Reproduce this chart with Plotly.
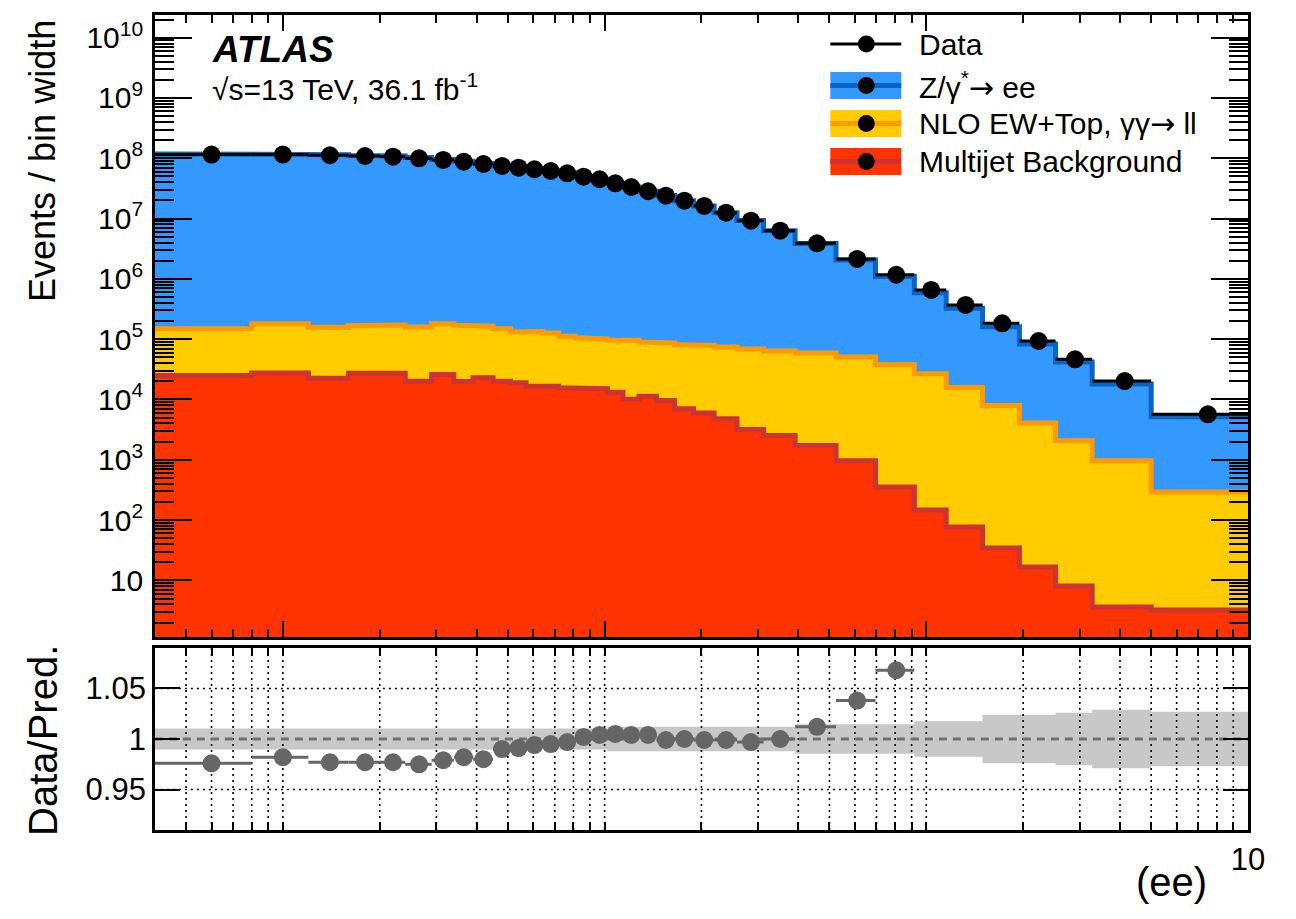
import numpy as np
import plotly.graph_objects as go

W, H = 1296, 919
# horizontal layout grid: 1280 units across the figure width
XSPAN = 1280.0
FONT = "Liberation Sans, Arial, Helvetica, sans-serif"
ARROW = '<span style="font-family:DejaVu Sans">→</span>'

# phi*_eta binning
bin_edges = [0.004, 0.008, 0.012, 0.016, 0.020, 0.024, 0.029, 0.034, 0.039, 0.045,
             0.051, 0.057, 0.064, 0.072, 0.081, 0.091, 0.102, 0.114, 0.128, 0.145,
             0.165, 0.189, 0.219, 0.258, 0.312, 0.391, 0.524, 0.695, 0.918, 1.153,
             1.496, 1.947, 2.522, 3.277, 5.0, 10.0]

# observed events / bin width
data_events = [1.151e8, 1.151e8, 1.122e8, 1.091e8, 1.064e8, 1.000e8, 9.38e7, 8.79e7, 8.04e7, 7.45e7,
               6.98e7, 6.58e7, 6.15e7, 5.64e7, 4.96e7, 4.49e7, 3.85e7, 3.34e7, 2.84e7, 2.40e7,
               1.98e7, 1.62e7, 1.25e7, 9.23e6, 6.30e6, 3.89e6, 2.14e6, 1.17e6, 6.55e5, 3.69e5,
               1.83e5, 9.33e4, 4.63e4, 2.02e4, 5.68e3]

# data / prediction
ratio_data_pred = [0.976, 0.982, 0.977, 0.977, 0.977, 0.975, 0.979, 0.982, 0.980, 0.990,
                   0.991, 0.994, 0.995, 0.997, 1.002, 1.004, 1.005, 1.004, 1.004, 0.999,
                   1.000, 0.999, 0.999, 0.997, 1.000, 1.012, 1.038, 1.068, 1.110, 1.130,
                   1.140, 1.120, 1.110, 1.120, 1.100]

# NLO EW + top, gamma gamma -> ll
ew_top_gg = [123800, 153200, 135600, 140300, 145000, 139200, 153900, 150700, 140800, 129200,
             112500, 117700, 110200, 96100, 90400, 85700, 83800, 85900, 78600, 76900,
             74600, 72700, 69500, 65500, 61200, 57300, 49700, 37700, 26600, 15700,
             7910, 4060, 2060, 958, 289]

# multijet background
multijet = [25000, 27480, 22540, 27160, 27160, 20040, 26000, 19860, 22910, 20090,
            19010, 16630, 16630, 15630, 15030, 15030, 13210, 10070, 11350, 9620,
            7015, 5970, 4790, 3180, 2530, 1726, 966, 354, 147, 76.9,
            34.4, 16.7, 8.07, 3.62, 3.23]

# relative uncertainty of the prediction
pred_unc = [0.0105, 0.0105, 0.0105, 0.0105, 0.0105, 0.0105, 0.0105, 0.0105, 0.0105, 0.0105,
            0.0105, 0.0105, 0.0105, 0.0105, 0.0105, 0.0105, 0.012, 0.012, 0.012, 0.012,
            0.012, 0.012, 0.012, 0.012, 0.012, 0.0145, 0.0145, 0.0145, 0.0175, 0.0175,
            0.024, 0.024, 0.026, 0.029, 0.027]

edges = np.array(bin_edges)
centers = 0.5 * (edges[:-1] + edges[1:])
data = np.array(data_events)
ratio = np.array(ratio_data_pred)
mj = np.array(multijet)
ew = np.array(ew_top_gg)
pred_total = data / ratio
z_ee = pred_total - ew - mj

stack_mj = mj
stack_ew = mj + ew
stack_z = stack_ew + z_ee


def px(x):
    return x / XSPAN


def py(y):
    return 1 - y / H


def steps(vals):
    xs, ys = [], []
    for i, v in enumerate(vals):
        xs += [edges[i], edges[i + 1]]
        ys += [v, v]
    return xs, ys


FLOOR = 1e-2
fig = go.Figure()

# stacked predictions
layers = [(stack_z, "#3399ff", "#0a64c4"),
          (stack_ew, "#ffcc00", "#ff9900"),
          (stack_mj, "#ff3300", "#cc3333")]
for vals, fillc, linec in layers:
    xs, ys = steps(vals)
    fig.add_trace(go.Scatter(x=[edges[0]] + xs + [edges[-1]], y=[FLOOR] + ys + [FLOOR],
                             fill="toself", fillcolor=fillc, mode="lines", line=dict(width=0),
                             hoverinfo="skip", showlegend=False, xaxis="x", yaxis="y"))
    fig.add_trace(go.Scatter(x=xs, y=ys, mode="lines", line=dict(color=linec, width=5),
                             hoverinfo="skip", showlegend=False, xaxis="x", yaxis="y"))

# data
fig.add_trace(go.Scatter(
    x=centers, y=data, mode="markers",
    marker=dict(color="black", size=18),
    error_x=dict(type="data", symmetric=False, array=edges[1:] - centers,
                 arrayminus=centers - edges[:-1], color="black", thickness=3, width=0),
    showlegend=False, xaxis="x", yaxis="y"))

# ratio panel: uncertainty band
hx, hy = steps(1 + np.array(pred_unc))
lx, ly = steps(1 - np.array(pred_unc))
fig.add_trace(go.Scatter(x=hx + lx[::-1], y=hy + ly[::-1], fill="toself", fillcolor="#c8c8c8",
                         mode="lines", line=dict(width=0), hoverinfo="skip", showlegend=False,
                         xaxis="x2", yaxis="y2"))

# ratio panel: dotted grid
x_grid = [m * 10.0 ** e for e in (-3, -2, -1, 0) for m in range(1, 10)
          if 0.004 < m * 10.0 ** e < 10]
gx, gy = [], []
for v in x_grid:
    gx += [v, v, None]
    gy += [0.91, 1.09, None]
for v in (0.95, 1.05):
    gx += [0.004, 10, None]
    gy += [v, v, None]
fig.add_trace(go.Scatter(x=gx, y=gy, mode="lines",
                         line=dict(color="black", width=1.6, dash="2px,4px"),
                         hoverinfo="skip", showlegend=False, xaxis="x2", yaxis="y2"))

# reference line at unity
fig.add_trace(go.Scatter(x=[0.004, 10], y=[1, 1], mode="lines",
                         line=dict(color="#707070", width=3, dash="8px,6px"),
                         hoverinfo="skip", showlegend=False, xaxis="x2", yaxis="y2"))

fig.add_trace(go.Scatter(
    x=centers, y=ratio, mode="markers",
    marker=dict(color="#666666", size=18),
    error_x=dict(type="data", symmetric=False, array=edges[1:] - centers,
                 arrayminus=centers - edges[:-1], color="#666666", thickness=3, width=0),
    showlegend=False, xaxis="x2", yaxis="y2"))

# axes
x_dom = [px(155), px(1249)]
x_range = [np.log10(0.004), 1.0]
x_minor = [m * 10.0 ** e for e in (-3, -2, -1, 0) for m in range(2, 10)
           if 0.004 < m * 10.0 ** e < 10]
x2_minor = [0.01, 0.1, 1.0] + x_minor
y_major = [10.0 ** k for k in range(1, 11)]
y_text = ["10"] + ["10<sup>%d</sup>" % k for k in range(2, 11)]
y_minor = [m * 10.0 ** k for k in range(0, 11) for m in range(2, 10)]

common = dict(showline=True, linecolor="black", linewidth=2.5, mirror="allticks",
              ticks="inside", tickcolor="black", tickwidth=2, showgrid=False,
              zeroline=False)

fig.update_layout(
    width=W, height=H, autosize=False, margin=dict(l=0, r=0, t=0, b=0),
    paper_bgcolor="white", plot_bgcolor="white",
    font=dict(family=FONT, color="black"),
    xaxis=dict(domain=x_dom, type="log", range=x_range, anchor="y",
               showticklabels=False, tickvals=[0.01, 0.1, 1, 10], ticklen=16,
               minor=dict(tickmode="array", tickvals=x_minor, ticks="inside",
                          ticklen=8, tickwidth=2, tickcolor="black"),
               **common),
    yaxis=dict(domain=[py(637), py(15)], type="log", range=[0.061, 10.376], anchor="x",
               tickvals=y_major, ticktext=y_text, ticklen=37,
               tickfont=dict(size=30), ticklabelstandoff=3,
               minor=dict(tickmode="array", tickvals=y_minor, ticks="inside",
                          ticklen=19, tickwidth=2, tickcolor="black"),
               **common),
    xaxis2=dict(domain=x_dom, type="log", range=x_range, anchor="y2",
                tickvals=[10], ticktext=["10"], ticklen=12,
                tickfont=dict(size=31), ticklabelstandoff=0,
                minor=dict(tickmode="array", tickvals=x2_minor, ticks="inside",
                           ticklen=8, tickwidth=2, tickcolor="black"),
                **common),
    yaxis2=dict(domain=[py(830), py(648)], range=[0.91, 1.09], anchor="x2",
                tickvals=[0.95, 1.0, 1.05], ticktext=["0.95", "1", "1.05"], ticklen=25,
                tickfont=dict(size=31), ticklabelstandoff=0,
                **common),
)

# axis titles and labels
ann = [
    dict(text="Events / bin width", x=px(43), y=py(161), textangle=-90, font=dict(size=36)),
    dict(text="Data/Pred.", x=px(43), y=py(740), textangle=-90, font=dict(size=40)),
    dict(text="(ee)", x=px(1172), y=py(882), font=dict(size=40)),
    dict(text="<b><i>ATLAS</i></b>", x=px(210), y=py(50), xanchor="left", font=dict(size=37)),
    dict(text="√s=13 TeV, 36.1 fb<sup>-1</sup>", x=px(210), y=py(87), xanchor="left",
         font=dict(size=30)),
]
for a in ann:
    a.setdefault("xanchor", "center")
    a.update(xref="paper", yref="paper", yanchor="middle", showarrow=False)
    fig.add_annotation(**a)

# legend
leg_rows = [
    ("Data", 44, None, None),
    ("Z/γ<sup>*</sup>" + ARROW + " ee", 85.5, "#3399ff", "#0a64c4"),
    ("NLO EW+Top, γγ" + ARROW + " ll", 123.5, "#ffcc00", "#ff9900"),
    ("Multijet Background", 161.5, "#ff3300", "#cc3333"),
]
shapes = []
for label, yc, fillc, linec in leg_rows:
    if fillc is None:
        shapes.append(dict(type="line", xref="paper", yref="paper", x0=px(831), x1=px(902),
                           y0=py(yc), y1=py(yc), line=dict(color="black", width=3)))
    else:
        shapes.append(dict(type="rect", xref="paper", yref="paper", x0=px(831), x1=px(902),
                           y0=py(yc + 13.5), y1=py(yc - 13.5), fillcolor=fillc,
                           line=dict(width=0)))
        shapes.append(dict(type="line", xref="paper", yref="paper", x0=px(831), x1=px(902),
                           y0=py(yc), y1=py(yc), line=dict(color=linec, width=5)))
    shapes.append(dict(type="circle", xref="paper", yref="paper", x0=px(867 - 8.5),
                       x1=px(867 + 8.5), y0=py(yc + 8.5), y1=py(yc - 8.5),
                       fillcolor="black", line=dict(width=0)))
    fig.add_annotation(text=label, x=px(918), y=py(yc), xref="paper", yref="paper",
                       xanchor="left", yanchor="middle", showarrow=False,
                       font=dict(size=30))
fig.update_layout(shapes=shapes)

fig.write_html("out.html")
